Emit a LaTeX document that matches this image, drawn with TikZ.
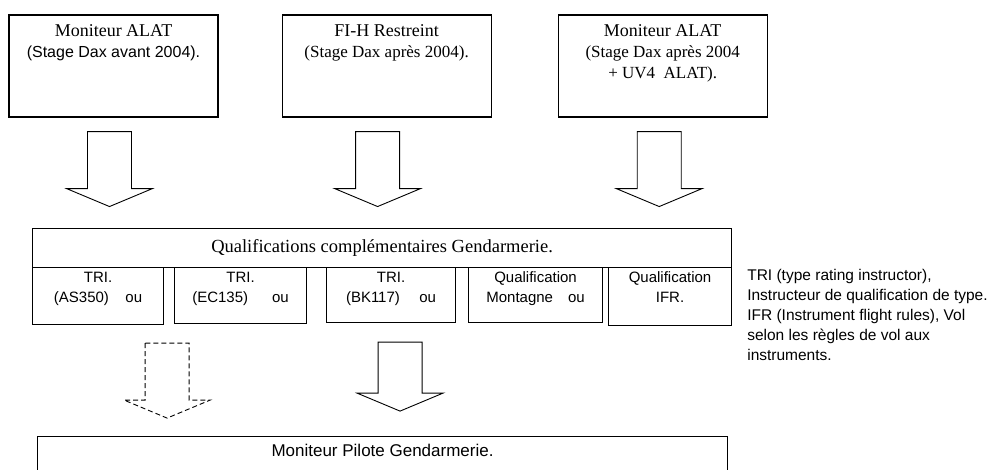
\documentclass[tikz,border=0pt]{standalone}
\usepackage{fontspec}
\setmainfont{Liberation Serif}
\setsansfont{Liberation Sans}
\usetikzlibrary{positioning}

\newcommand\subline{\fontsize{17}{21}\selectfont}

\begin{document}
\begin{tikzpicture}[
      x=1pt, y=-1pt,
      box/.style = {draw, line width=1.1pt, inner sep=0pt, rectangle},
      top box/.style = {box, minimum width=209pt, minimum height=102pt},
      qual box/.style = {box, anchor=north west},
      heading/.style = {anchor=north, inner sep=0pt, align=center,
                        font=\fontsize{18}{21}\selectfont},
      sub text/.style = {anchor=north, inner sep=0pt, align=center,
                         font=\sffamily\fontsize{15}{20}\selectfont},
      block/.style = {line width=0.9pt, line join=miter},
      pics/down arrow/.style = {code={%
        \draw [block] (-22,0) -- (-22,#1-18) -- (-43,#1-18) -- (0,#1)
          -- (43,#1-18) -- (22,#1-18) -- (22,0) -- cycle;}},
    ]
    \useasboundingbox (0,0) rectangle (996,469);

    %% The three ways in
    \node (alat1) [top box] at (113.5,66) {};
    \node (fih) [top box, right=63pt of alat1] {};
    \node (alat2) [top box, right=66pt of fih] {};

    \node (alat1 text) [heading, below=9.5pt of alat1.north]
      {Moniteur ALAT\\{\sffamily\fontsize{16}{21}\selectfont (Stage Dax avant 2004).}};
    \node (fih text) [heading, below=9.5pt of fih.north]
      {FI-H Restreint\\{\subline (Stage Dax après 2004).}};
    \node (alat2 text) [heading, below=9.5pt of alat2.north]
      {Moniteur ALAT\\{\subline (Stage Dax après 2004}\\{\subline + UV4~~ALAT).}};

    \pic at ([xshift=-4pt, yshift=-14pt] alat1.south) {down arrow=75};
    \pic at ([xshift=-9pt, yshift=-14pt] fih.south) {down arrow=75};
    \pic at ([xshift=-3.5pt, yshift=-14pt] alat2.south) {down arrow=75};

    %% Qualifications complementaires
    \node (quals) [qual box, minimum width=699pt, minimum height=39pt,
                   font=\fontsize{18.5}{22}\selectfont] at (32,228)
      {Qualifications complémentaires Gendarmerie.};

    \foreach \name/\x/\w/\h/\txt in {%
        triAS/32/131/57/{TRI.\\(AS350)\hspace{1.1em}ou},
        triEC/174/132/56/{TRI.\\(EC135)\hspace{1.6em}ou},
        triBK/326/129/55/{TRI.\\(BK117)\hspace{1.3em}ou},
        montagne/468/134/55/{Qualification\\Montagne\hspace{1em}ou},
        ifr/608/123/58/{Qualification\\IFR.}}{%
      \node (\name) [qual box, minimum width=\w pt, minimum height=\h pt]
        at (\x,267) {};
      \node (\name text) [sub text, below=4.5pt of \name.north] {\txt};
    }

    \node (note) [below right=2pt and 15pt of ifr.north east, inner sep=0pt,
                  align=left, font=\sffamily\fontsize{15.5}{20}\selectfont]
      {TRI (type rating instructor),\\
       Instructeur de qualification de type.\\
       IFR (Instrument flight rules), Vol\\
       selon les règles de vol aux\\
       instruments.};

    %% Towards the final level
    \pic [dashed, dash pattern=on 5pt off 3pt]
      at ([xshift=3pt, yshift=-18pt] triAS.south east) {down arrow=75};
    \pic at ([xshift=9pt, yshift=-19pt] triBK.south) {down arrow=69};

    \node (pilote) [box, minimum width=690pt, minimum height=60pt,
                    anchor=north west] at (37,436) {};
    \node (pilote text) [anchor=north, inner sep=0pt,
                         font=\sffamily\fontsize{17}{20}\selectfont,
                         below=8pt of pilote.north]
      {Moniteur Pilote Gendarmerie.};
  \end{tikzpicture}
\end{document}
